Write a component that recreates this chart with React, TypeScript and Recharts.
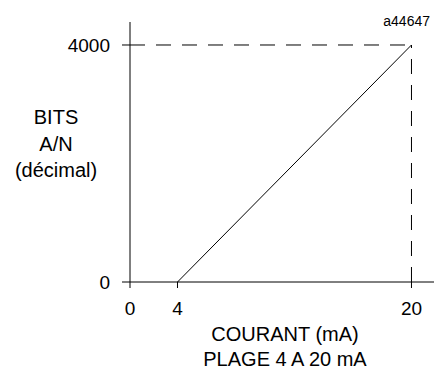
import React from 'react';
import { LineChart, Line, XAxis, YAxis, ReferenceLine } from 'recharts';

// current (mA) -> A/N bits
const currentMA = [4, 20];
const bits = [0, 4000];
const xTicks = [0, 4, 20];
const yTicks = [0, 4000];

const data = currentMA.map((x, i) => ({ x, y: bits[i] }));

const FONT = '"Liberation Sans", Arial, Helvetica, sans-serif';

// the 0..4 part of the current axis is drawn shorter than the rest (axis break)
const BREAK = 4;
const BREAK_RATIO = 0.812;
const warp = (v: number) => (v <= BREAK ? v * BREAK_RATIO : BREAK * BREAK_RATIO + (v - BREAK));

function brokenScale(): any {
  let dom: number[] = [0, 1];
  let rng: number[] = [0, 1];
  const s: any = (v: number) => {
    const a = warp(dom[0]);
    const b = warp(dom[1]);
    return rng[0] + ((warp(Number(v)) - a) / (b - a)) * (rng[1] - rng[0]);
  };
  s.domain = (d?: any[]) => {
    if (d === undefined) return dom;
    dom = d.map(Number);
    return s;
  };
  s.range = (r?: number[]) => {
    if (r === undefined) return rng;
    rng = r;
    return s;
  };
  s.ticks = () => xTicks;
  s.copy = () => brokenScale().domain(dom).range(rng);
  return s;
}

const YTitle = () => (
  <text textAnchor="middle" fontFamily={FONT} fontSize={20} fill="#000">
    <tspan x={56} y={124}>BITS</tspan>
    <tspan x={56} y={151}>A/N</tspan>
    <tspan x={56} y={177}>(décimal)</tspan>
  </text>
);

const XTitle = () => (
  <text textAnchor="middle" fontFamily={FONT} fontSize={20} fill="#000">
    <tspan x={285} y={341}>COURANT (mA)</tspan>
    <tspan x={285} y={366}>PLAGE 4 A 20 mA</tspan>
  </text>
);

export default function App() {
  return (
    <div style={{ position: 'absolute', left: 0, top: 0, width: 434, height: 376, background: '#fff' }}>
      <LineChart
        width={434}
        height={376}
        data={data}
        margin={{ top: 22, right: 0, bottom: 64, left: 0 }}
      >
        <XAxis
          dataKey="x"
          type="number"
          scale={brokenScale()}
          domain={[0, 21.54]}
          ticks={xTicks}
          interval={0}
          height={30}
          stroke="#000"
          tickSize={6}
          tickMargin={14}
          tick={{ fill: '#000', fontSize: 19, fontFamily: FONT }}
          label={{ content: XTitle }}
        />
        <YAxis
          dataKey="y"
          type="number"
          width={130}
          domain={[0, 4388]}
          ticks={yTicks}
          interval={0}
          stroke="#000"
          tickSize={8}
          tickMargin={12}
          tick={{ fill: '#000', fontSize: 19, fontFamily: FONT }}
          label={{ content: YTitle }}
        />
        <ReferenceLine
          segment={[{ x: 0, y: 4000 }, { x: 20, y: 4000 }]}
          stroke="#000"
          strokeDasharray="15 11"
        />
        <ReferenceLine
          segment={[{ x: 20, y: 0 }, { x: 20, y: 4000 }]}
          stroke="#000"
          strokeDasharray="15 11"
        />
        <Line
          dataKey="y"
          type="linear"
          stroke="#000"
          strokeWidth={1}
          dot={false}
          activeDot={false}
          isAnimationActive={false}
        />
      </LineChart>
      <div
        style={{
          position: 'absolute',
          right: 4,
          top: 13,
          fontFamily: FONT,
          fontSize: 14,
          color: '#000',
        }}
      >
        a44647
      </div>
    </div>
  );
}
